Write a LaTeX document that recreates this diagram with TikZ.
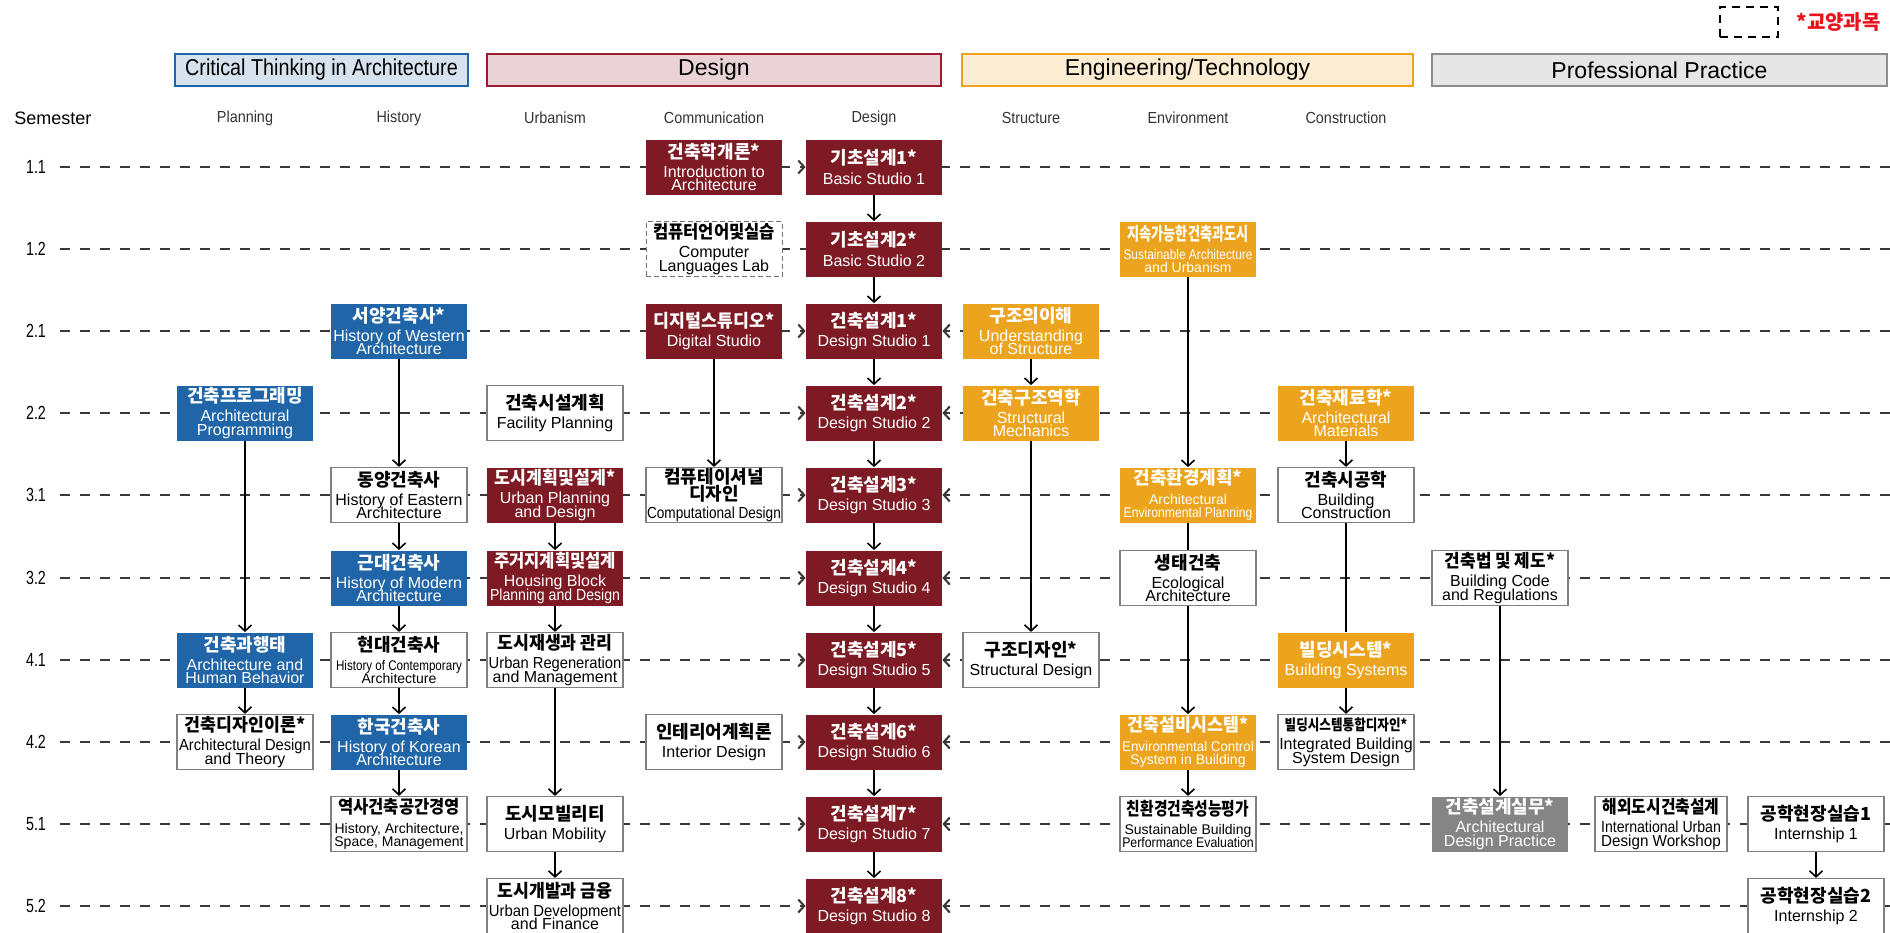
\documentclass[tikz,border=0pt]{standalone}
\usepackage{fontspec}
\usepackage{graphicx}
\setmainfont{Liberation Sans}
\newfontfamily\krfont{Noto Sans CJK KR}
\newfontfamily\subfont{Liberation Sans}[FakeStretch=0.9]
\newfontfamily\numfont{Liberation Sans}[FakeStretch=0.75]
\usetikzlibrary{arrows.meta,backgrounds}
\definecolor{dsred}{HTML}{7E1A23}
\definecolor{ctblue}{HTML}{1F65A7}
\definecolor{etorange}{HTML}{ECA41E}
\definecolor{ppgray}{HTML}{858585}
\definecolor{ctfill}{HTML}{D6E2EE}
\definecolor{dsfill}{HTML}{E9D3D7}
\definecolor{dsline}{HTML}{9A1C2E}
\definecolor{etfill}{HTML}{FCEDD2}
\definecolor{ppfill}{HTML}{E6E6E6}
\definecolor{ppline}{HTML}{8C8C8C}
\definecolor{legred}{HTML}{E8121C}
\newcommand{\kt}{\krfont\bfseries\fontsize{9}{9.5}\selectfont}
\newcommand{\et}{\fontsize{8}{6.7}\selectfont\lineskiplimit=-20pt\lineskip=0pt}
\newcommand{\es}[1]{{\fontsize{7}{6.7}\selectfont #1}}
\newcommand{\sx}[2]{\scalebox{#1}[1]{#2}}
\newcommand{\crs}[2]{{\kt #1}\\[3pt]#2}
\begin{document}
\begin{tikzpicture}[x=0.5pt, y=-0.5pt,
  course/.style={minimum width=68pt, minimum height=27.5pt, inner sep=0pt, align=center, font=\et},
  dbox/.style={course, fill=dsred, text=white},
  bbox/.style={course, fill=ctblue, text=white},
  obox/.style={course, fill=etorange, text=white},
  gbox/.style={course, fill=ppgray, text=white},
  wbox/.style={course, fill=white, draw=black!50, line width=0.6pt},
  nbox/.style={course, fill=white, draw=black!55, dash pattern=on 2.5pt off 1.5pt, line width=0.5pt},
  cat/.style={minimum height=16pt, inner sep=0pt, line width=1.3pt, font=\fontsize{11.5}{12}\selectfont},
  sub/.style={inner sep=0pt, text=black!80, font=\subfont\fontsize{8}{9}\selectfont},
  sem/.style={minimum width=24pt, inner sep=0pt, font=\numfont\fontsize{9.5}{10}\selectfont},
  rowline/.style={draw=black!78, line width=1pt, dash pattern=on 5pt off 5pt},
  link/.style={->, line width=0.8pt},
  >={Straight Barb[length=3pt,width=6.5pt]}]
  \useasboundingbox (0,0) rectangle (1890,932);

  \node[draw, dash pattern=on 4pt off 3pt, line width=1pt, minimum width=29pt, minimum height=15pt] (legbox) at (1749,22) {};
  \node[anchor=west, inner sep=0pt, text=legred, font=\krfont\bfseries\fontsize{10}{11}\selectfont] (legtxt) at (1796,22) {*교양과목};

  \node[cat, fill=ctfill, draw=ctblue, minimum width=146.5pt] (cthink) at (321.5,70) {\sx{0.86}{Critical Thinking in Architecture}};
  \node[cat, fill=dsfill, draw=dsline, minimum width=227pt] (cdesign) at (714,70) {Design};
  \node[cat, fill=etfill, draw=etorange, minimum width=225.5pt] (ceng) at (1187.5,70) {Engineering/Technology};
  \node[cat, fill=ppfill, draw=ppline, minimum width=227.5pt] (cprac) at (1659.5,70) {Professional Practice};

  \node[anchor=west, inner sep=0pt, font=\fontsize{9}{10}\selectfont] (semh) at (14,118) {Semester};
  \node[sub] (hplan) at (245,118) {Planning};
  \node[sub] (hhist) at (399,118) {History};
  \node[sub] (hurb) at (555,118) {Urbanism};
  \node[sub] (hcomm) at (714,118) {Communication};
  \node[sub] (hdes) at (874,118) {Design};
  \node[sub] (hstr) at (1031,118) {Structure};
  \node[sub] (henv) at (1188,118) {Environment};
  \node[sub] (hcon) at (1346,118) {Construction};

  \node[sem] (s11) at (36,167) {1.1};
  \node[sem] (s12) at (36,249) {1.2};
  \node[sem] (s21) at (36,331) {2.1};
  \node[sem] (s22) at (36,413) {2.2};
  \node[sem] (s31) at (36,495) {3.1};
  \node[sem] (s32) at (36,578) {3.2};
  \node[sem] (s41) at (36,660) {4.1};
  \node[sem] (s42) at (36,742) {4.2};
  \node[sem] (s51) at (36,824) {5.1};
  \node[sem] (s52) at (36,906) {5.2};

  \coordinate (e11) at (1890,167);
  \coordinate (e12) at (1890,249);
  \coordinate (e21) at (1890,331);
  \coordinate (e22) at (1890,413);
  \coordinate (e31) at (1890,495);
  \coordinate (e32) at (1890,578);
  \coordinate (e41) at (1890,660);
  \coordinate (e42) at (1890,742);
  \coordinate (e51) at (1890,824);
  \coordinate (e52) at (1890,906);

  \node[dbox] (intro) at (714,167) {\crs{건축학개론*}{Introduction to\\Architecture}};
  \node[dbox] (bs1) at (874,167) {\crs{기초설계1*}{Basic Studio 1}};

  \node[nbox] (cll) at (714,249) {\crs{\sx{0.92}{컴퓨터언어및실습}}{Computer\\Languages Lab}};
  \node[dbox] (bs2) at (874,249) {\crs{기초설계2*}{Basic Studio 2}};
  \node[obox] (sau) at (1188,249) {\crs{\sx{0.73}{지속가능한건축과도시}}{\es{\sx{0.85}{Sustainable Architecture}}\\\es{and Urbanism}}};

  \node[bbox] (hwa) at (399,331) {\crs{서양건축사*}{History of Western\\Architecture}};
  \node[dbox] (dst) at (714,331) {\crs{\sx{0.96}{디지털스튜디오*}}{Digital Studio}};
  \node[dbox] (ds1) at (874,331) {\crs{건축설계1*}{Design Studio 1}};
  \node[obox] (ust) at (1031,331) {\crs{구조의이해}{Understanding\\of Structure}};

  \node[bbox] (apg) at (245,413) {\crs{건축프로그래밍}{Architectural\\Programming}};
  \node[wbox] (fpl) at (555,413) {\crs{건축시설계획}{Facility Planning}};
  \node[dbox] (ds2) at (874,413) {\crs{건축설계2*}{Design Studio 2}};
  \node[obox] (smc) at (1031,413) {\crs{건축구조역학}{Structural\\Mechanics}};
  \node[obox] (ama) at (1346,413) {\crs{건축재료학*}{Architectural\\Materials}};

  \node[wbox] (hea) at (399,495) {\crs{동양건축사}{History of Eastern\\Architecture}};
  \node[dbox] (upd) at (555,495) {\crs{\sx{0.96}{도시계획및설계*}}{Urban Planning\\and Design}};
  \node[wbox] (cpd) at (714,495) {{\kt 컴퓨테이셔널}\\[2pt]{\kt 디자인}\\[2pt]\sx{0.85}{Computational Design}};
  \node[dbox] (ds3) at (874,495) {\crs{건축설계3*}{Design Studio 3}};
  \node[obox] (aep) at (1188,495) {\crs{건축환경계획*}{\es{Architectural}\\\es{\sx{0.87}{Environmental Planning}}}};
  \node[wbox] (bco) at (1346,495) {\crs{건축시공학}{Building\\Construction}};

  \node[bbox] (hma) at (399,578) {\crs{근대건축사}{History of Modern\\Architecture}};
  \node[dbox] (hbp) at (555,578) {\crs{\sx{0.92}{주거지계획및설계}}{Housing Block\\\sx{0.88}{Planning and Design}}};
  \node[dbox] (ds4) at (874,578) {\crs{건축설계4*}{Design Studio 4}};
  \node[wbox] (eca) at (1188,578) {\crs{생태건축}{Ecological\\Architecture}};
  \node[wbox] (bcr) at (1500,578) {\crs{\sx{0.94}{건축법 및 제도*}}{Building Code\\and Regulations}};

  \node[bbox] (ahb) at (245,660) {\crs{건축과행태}{Architecture and\\Human Behavior}};
  \node[wbox] (hca) at (399,660) {\crs{현대건축사}{\es{\sx{0.83}{History of Contemporary}}\\\es{Architecture}}};
  \node[wbox] (urm) at (555,660) {\crs{\sx{0.96}{도시재생과 관리}}{\sx{0.92}{Urban Regeneration}\\and Management}};
  \node[dbox] (ds5) at (874,660) {\crs{건축설계5*}{Design Studio 5}};
  \node[wbox] (sde) at (1031,660) {\crs{구조디자인*}{Structural Design}};
  \node[obox] (bsy) at (1346,660) {\crs{빌딩시스템*}{Building Systems}};

  \node[wbox] (adt) at (245,742) {\crs{\sx{0.96}{건축디자인이론*}}{\sx{0.92}{Architectural Design}\\and Theory}};
  \node[bbox] (hka) at (399,742) {\crs{한국건축사}{History of Korean\\Architecture}};
  \node[wbox] (ind) at (714,742) {\crs{인테리어계획론}{Interior Design}};
  \node[dbox] (ds6) at (874,742) {\crs{건축설계6*}{Design Studio 6}};
  \node[obox] (ecs) at (1188,742) {\crs{\sx{0.96}{건축설비시스템*}}{\es{\sx{0.95}{Environmental Control}}\\\es{System in Building}}};
  \node[wbox] (ibs) at (1346,742) {\crs{\fontsize{7.5}{8}\selectfont\sx{0.84}{빌딩시스템통합디자인*}}{Integrated Building\\System Design}};

  \node[wbox] (ham) at (399,824) {\crs{\sx{0.92}{역사건축공간경영}}{\es{History, Architecture,}\\\es{Space, Management}}};
  \node[wbox] (umo) at (555,824) {\crs{도시모빌리티}{Urban Mobility}};
  \node[dbox] (ds7) at (874,824) {\crs{건축설계7*}{Design Studio 7}};
  \node[wbox] (sbp) at (1188,824) {\crs{\sx{0.82}{친환경건축성능평가}}{\es{Sustainable Building}\\\es{\sx{0.88}{Performance Evaluation}}}};
  \node[gbox] (adp) at (1500,824) {\crs{건축설계실무*}{Architectural\\Design Practice}};
  \node[wbox, minimum width=66pt] (iud) at (1661,824) {\crs{\sx{0.88}{해외도시건축설계}}{\sx{0.88}{International Urban}\\\sx{0.95}{Design Workshop}}};
  \node[wbox] (in1) at (1816,824) {\crs{공학현장실습1}{Internship 1}};

  \node[wbox] (udf) at (555,906) {\crs{\sx{0.96}{도시개발과 금융}}{\sx{0.93}{Urban Development}\\and Finance}};
  \node[dbox] (ds8) at (874,906) {\crs{건축설계8*}{Design Studio 8}};
  \node[wbox] (in2) at (1816,906) {\crs{공학현장실습2}{Internship 2}};

  \begin{pgfonlayer}{background}
  \fill[white] (0,0) rectangle (1890,932);
  \draw[rowline,->] (s11.east) -- (bs1.west);
  \draw[rowline] (e11) -- (bs1.east);
  \draw[rowline] (s12.east) -- (bs2.west);
  \draw[rowline] (e12) -- (bs2.east);
  \draw[rowline,->] (s21.east) -- (ds1.west);
  \draw[rowline,->] (e21) -- (ds1.east);
  \draw[rowline,->] (s22.east) -- (ds2.west);
  \draw[rowline,->] (e22) -- (ds2.east);
  \draw[rowline,->] (s31.east) -- (ds3.west);
  \draw[rowline,->] (e31) -- (ds3.east);
  \draw[rowline,->] (s32.east) -- (ds4.west);
  \draw[rowline,->] (e32) -- (ds4.east);
  \draw[rowline,->] (s41.east) -- (ds5.west);
  \draw[rowline,->] (e41) -- (ds5.east);
  \draw[rowline,->] (s42.east) -- (ds6.west);
  \draw[rowline,->] (e42) -- (ds6.east);
  \draw[rowline,->] (s51.east) -- (ds7.west);
  \draw[rowline,->] (e51) -- (ds7.east);
  \draw[rowline,->] (s52.east) -- (ds8.west);
  \draw[rowline,->] (e52) -- (ds8.east);

  \draw[link] (bs1) -- (bs2);
  \draw[link] (bs2) -- (ds1);
  \draw[link] (ds1) -- (ds2);
  \draw[link] (ds2) -- (ds3);
  \draw[link] (ds3) -- (ds4);
  \draw[link] (ds4) -- (ds5);
  \draw[link] (ds5) -- (ds6);
  \draw[link] (ds6) -- (ds7);
  \draw[link] (ds7) -- (ds8);

  \draw[link] (hwa) -- (hea);
  \draw[link] (hea) -- (hma);
  \draw[link] (hma) -- (hca);
  \draw[link] (hca) -- (hka);
  \draw[link] (hka) -- (ham);

  \draw[link] (apg) -- (ahb);
  \draw[link] (ahb) -- (adt);

  \draw[link] (upd) -- (hbp);
  \draw[link] (hbp) -- (urm);
  \draw[link] (urm) -- (umo);
  \draw[link] (umo) -- (udf);

  \draw[link] (dst) -- (cpd);

  \draw[link] (ust) -- (smc);
  \draw[link] (smc) -- (sde);

  \draw[link] (sau) -- (aep);
  \draw[line width=0.8pt] (aep) -- (eca);
  \draw[link] (eca) -- (ecs);
  \draw[link] (ecs) -- (sbp);

  \draw[link] (ama) -- (bco);
  \draw[line width=0.8pt] (bco) -- (bsy);
  \draw[link] (bsy) -- (ibs);

  \draw[link] (bcr) -- (adp);
  \draw[link] (in1) -- (in2);
  \end{pgfonlayer}
  \end{tikzpicture}
\end{document}
